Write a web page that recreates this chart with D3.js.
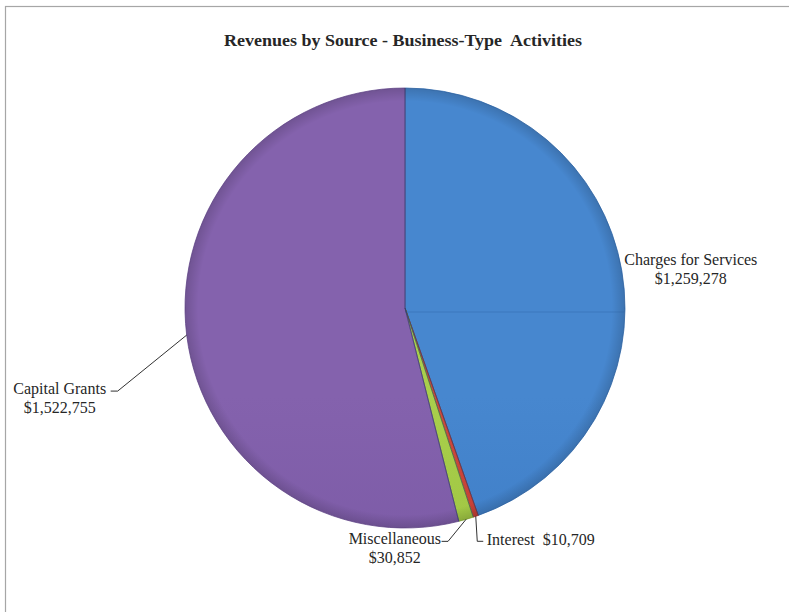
<!DOCTYPE html>
<html>
<head>
<meta charset="utf-8">
<script src="https://cdn.jsdelivr.net/npm/d3@7"></script>
<style>
  html, body { margin: 0; padding: 0; background: #fff; }
  svg { display: block; }
  text { font-family: "Liberation Serif", "Times New Roman", serif; fill: #262626; }
</style>
</head>
<body>
<div id="chart"></div>
<script>
// Revenue sources for business-type activities
const categories = ["Charges for Services", "Interest", "Miscellaneous", "Capital Grants"];
const values = [1259278, 10709, 30852, 1522755];
const chartTitle = "Revenues by Source - Business-Type\u00A0 Activities";

// Slice colours: base, light (top) and dark (bottom) tones
const baseColors = ["#3d7cc5", "#c0392f", "#9cc23f", "#7a59a5"];
const lightColors = ["#4787cf", "#cf4a3e", "#a9cf4c", "#8462ad"];
const darkColors = ["#336db2", "#a8302a", "#86a935", "#6b4e93"];

const W = 789, H = 612;
const cx = 405, cy = 308, R = 220;

const svg = d3.select("#chart").append("svg")
  .attr("width", W).attr("height", H);

// chart area border (open to the right and bottom)
svg.append("rect")
  .attr("x", 5.5).attr("y", 6.5)
  .attr("width", 900).attr("height", 800)
  .attr("fill", "none")
  .attr("stroke", "#a6a6a6")
  .attr("stroke-width", 1.2);

svg.append("text")
  .attr("x", 403).attr("y", 46)
  .attr("text-anchor", "middle")
  .attr("font-weight", "bold")
  .attr("font-size", "17px")
  .attr("textLength", 358)
  .attr("lengthAdjust", "spacingAndGlyphs")
  .text(chartTitle);

const defs = svg.append("defs");
categories.forEach((c, i) => {
  const g = defs.append("linearGradient")
    .attr("id", "grad" + i)
    .attr("gradientUnits", "userSpaceOnUse")
    .attr("x1", 0).attr("y1", cy - R).attr("x2", 0).attr("y2", cy + R);
  g.append("stop").attr("offset", "0%").attr("stop-color", lightColors[i]);
  g.append("stop").attr("offset", "50%").attr("stop-color", baseColors[i]);
  g.append("stop").attr("offset", "100%").attr("stop-color", darkColors[i]);
});
// soft rim shading for a beveled look
const rim = defs.append("radialGradient")
  .attr("id", "rim")
  .attr("gradientUnits", "userSpaceOnUse")
  .attr("cx", cx).attr("cy", cy).attr("r", R);
rim.append("stop").attr("offset", "94%").attr("stop-color", "#000").attr("stop-opacity", 0);
rim.append("stop").attr("offset", "100%").attr("stop-color", "#000").attr("stop-opacity", 0.15);

const data = categories.map((c, i) => ({ name: c, value: values[i], idx: i }));

const pie = d3.pie().sort(null).value(d => d.value);
const arcs = pie(data);
const arc = d3.arc().innerRadius(0).outerRadius(R);

// slices are drawn in page coordinates so the gradients line up
const g = svg.append("g");
g.selectAll("path.slice")
  .data(arcs)
  .join("path")
  .attr("class", "slice")
  .attr("transform", `translate(${cx},${cy})`)
  .attr("d", arc)
  .attr("fill", d => `url(#grad${d.data.idx})`)
  .attr("stroke", d => darkColors[d.data.idx])
  .attr("stroke-width", 0.8);

// rim overlay
g.append("circle")
  .attr("cx", cx).attr("cy", cy)
  .attr("r", R)
  .attr("fill", "url(#rim)");

// faint shading seam across the right half
g.append("line")
  .attr("x1", cx).attr("y1", cy + 4)
  .attr("x2", cx + Math.sqrt(R * R - 16) - 1).attr("y2", cy + 4)
  .attr("stroke", "#2a5d9c")
  .attr("stroke-opacity", 0.35)
  .attr("stroke-width", 1);

// dark divider lines between slices
g.selectAll("line.div")
  .data(arcs)
  .join("line")
  .attr("class", "div")
  .attr("x1", cx).attr("y1", cy)
  .attr("x2", d => cx + R * Math.sin(d.startAngle))
  .attr("y2", d => cy - R * Math.cos(d.startAngle))
  .attr("stroke", "#2f3f66")
  .attr("stroke-opacity", 0.55)
  .attr("stroke-width", 1);

// label layout, relative to the point on the rim at each slice's mid-angle
const fmt = d3.format("$,");
const labelLayout = {
  "Charges for Services": { dx: 69, dy: -6, anchor: "middle", lines: 2, leader: null },
  "Interest": { dx: 11, dy: 29, anchor: "start", lines: 1, leader: [[0, 0], [1.5, 25], [7.5, 25]] },
  "Miscellaneous": { dx: -25, dy: 25, anchor: "end", lines: 2, leader: [[0, 0], [-18, 22], [-24.5, 22]] },
  "Capital Grants": { dx: -127, dy: 59, anchor: "middle", lines: 2, leader: [[0, 0], [-69, 56], [-76, 56]] }
};

const labels = svg.append("g");
arcs.forEach(d => {
  const mid = (d.startAngle + d.endAngle) / 2;
  const px = cx + R * Math.sin(mid);
  const py = cy - R * Math.cos(mid);
  const L = labelLayout[d.data.name];
  if (L.leader) {
    labels.append("path")
      .attr("d", d3.line()(L.leader.map(p => [px + p[0], py + p[1]])))
      .attr("fill", "none")
      .attr("stroke", "#1a1a1a")
      .attr("stroke-width", 0.9);
  }
  const t = labels.append("text")
    .attr("font-size", "16px")
    .attr("text-anchor", L.anchor);
  if (L.lines === 2) {
    const x0 = px + L.dx;
    if (L.anchor === "end") {
      t.append("tspan").attr("x", x0).attr("y", py + L.dy).text(d.data.name);
      const w = t.node().getComputedTextLength();
      t.append("tspan").attr("x", x0 - w / 2).attr("y", py + L.dy + 19)
        .attr("text-anchor", "middle").text(fmt(d.data.value));
    } else {
      t.append("tspan").attr("x", x0).attr("y", py + L.dy).text(d.data.name);
      t.append("tspan").attr("x", x0).attr("y", py + L.dy + 19).text(fmt(d.data.value));
    }
  } else {
    t.attr("x", px + L.dx).attr("y", py + L.dy)
      .text(d.data.name + "\u00A0 " + fmt(d.data.value));
  }
});
</script>
</body>
</html>
